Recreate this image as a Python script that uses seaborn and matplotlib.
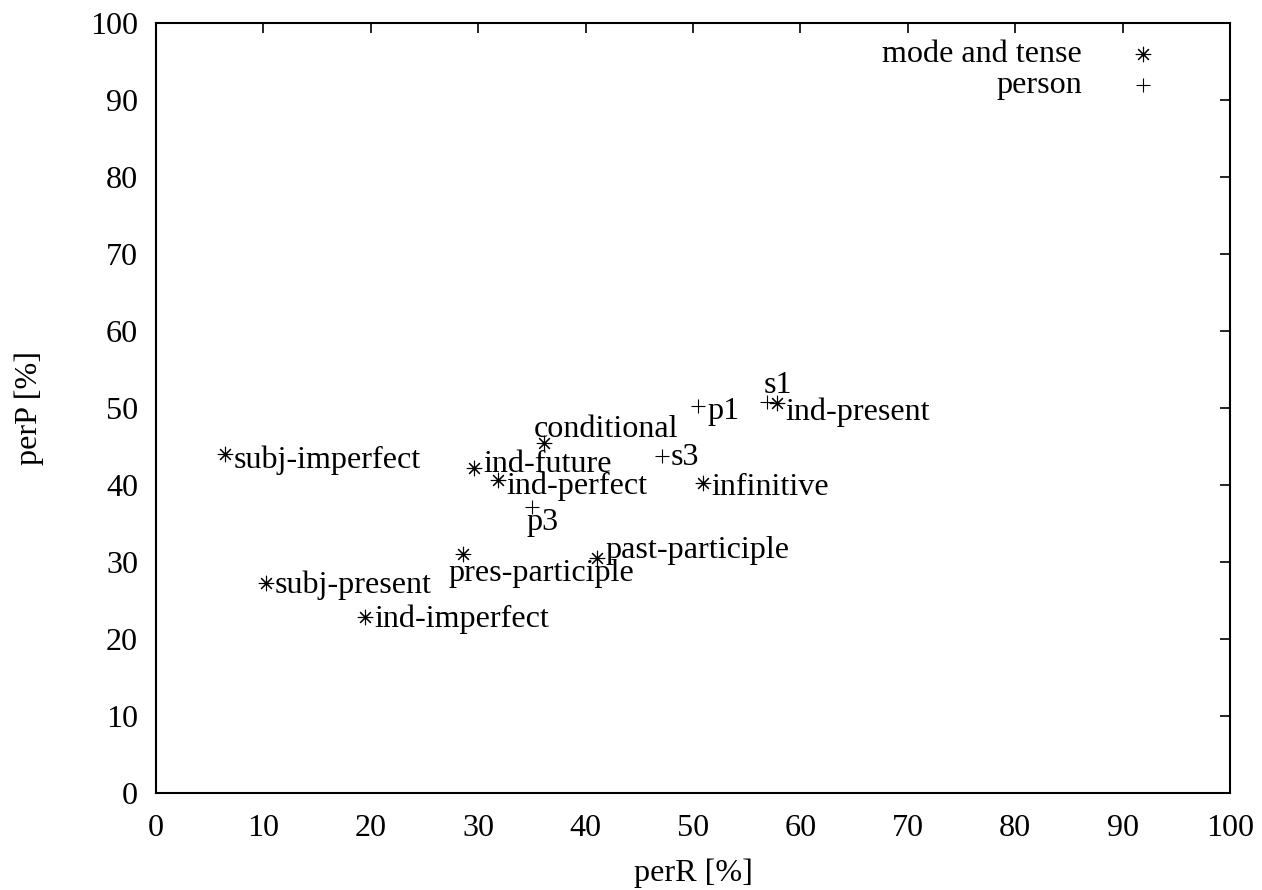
import matplotlib
matplotlib.use("Agg")
import matplotlib.pyplot as plt
import seaborn as sns
import pandas as pd

# ---- data ----
mode_labels = ['subj-imperfect', 'ind-future', 'conditional', 'ind-perfect', 'infinitive',
               'ind-present', 'pres-participle', 'past-participle', 'subj-present', 'ind-imperfect']
mode_R = [6.4, 29.6, 36.1, 31.8, 50.9, 57.8, 28.6, 41.1, 10.2, 19.5]
mode_P = [44.0, 42.2, 45.5, 40.6, 40.2, 50.6, 31.1, 30.5, 27.3, 22.9]

person_labels = ['s1', 'p1', 's3', 'p3']
person_R = [56.9, 50.5, 47.1, 35.0]
person_P = [50.8, 50.2, 43.8, 37.2]

series_names = ['mode and tense', 'person']
x_ticks = list(range(0, 101, 10))
y_ticks = list(range(0, 101, 10))

# label offsets in pixels (dx, dy)
mode_offsets = {'subj-imperfect': (9, -6), 'ind-future': (9, 4), 'conditional': (-10, 13),
                'ind-perfect': (9, -6), 'infinitive': (9, -4), 'ind-present': (9, -9),
                'pres-participle': (-15, -20), 'past-participle': (8, 8),
                'subj-present': (9, -2), 'ind-imperfect': (9, -3)}
person_offsets = {'s1': (-3, 16), 'p1': (9, -5), 's3': (9, -2), 'p3': (-5, -16)}

df_mode = pd.DataFrame({'perR': mode_R, 'perP': mode_P, 'label': mode_labels})
df_person = pd.DataFrame({'perR': person_R, 'perP': person_P, 'label': person_labels})

sns.set_theme(style="white")
plt.rcParams['font.family'] = ['Liberation Serif', 'DejaVu Serif']
plt.rcParams['text.color'] = 'black'
plt.rcParams['axes.labelcolor'] = 'black'
plt.rcParams['xtick.color'] = 'black'
plt.rcParams['ytick.color'] = 'black'
FS = 23.1

fig = plt.figure(figsize=(12.62, 8.9), dpi=100)
ax = fig.add_axes([156 / 1262, 1 - 793 / 890, (1230 - 156) / 1262, (793 - 23) / 890])

asterisk = (8, 2, 0)
sns.scatterplot(data=df_mode, x='perR', y='perP', marker=asterisk, color='black',
                s=110, linewidth=0.8, ax=ax, label=series_names[0])
sns.scatterplot(data=df_person, x='perR', y='perP', marker='+', color='black',
                s=90, linewidth=0.8, ax=ax, label=series_names[1])

for df, offs in ((df_mode, mode_offsets), (df_person, person_offsets)):
    for _, r in df.iterrows():
        dx, dy = offs[r['label']]
        ax.annotate(r['label'], (r['perR'], r['perP']), xytext=(dx, dy),
                    textcoords='offset pixels', ha='left', va='center',
                    fontsize=FS, color='black')

ax.set_xlim(0, 100)
ax.set_ylim(0, 100)
ax.set_xticks(x_ticks)
ax.set_yticks(y_ticks)
ax.tick_params(direction='in', length=7.5, width=1.2, top=True, right=True,
               labelsize=FS, colors='black')
ax.tick_params(axis='x', pad=15)
ax.tick_params(axis='y', pad=13)
for sp in ax.spines.values():
    sp.set_color('black')
    sp.set_linewidth(1.5)
ax.set_xlabel('perR [%]', fontsize=FS, labelpad=11, color='black')
ax.set_ylabel('perP [%]', fontsize=FS, labelpad=33, color='black')

ax.legend(loc='upper right', bbox_to_anchor=(0.949, 0.978), frameon=False,
          markerfirst=False, fontsize=FS, handlelength=2, handletextpad=0.9,
          borderaxespad=0, borderpad=0, labelspacing=0.05)

fig.savefig('out.png', dpi=100)
